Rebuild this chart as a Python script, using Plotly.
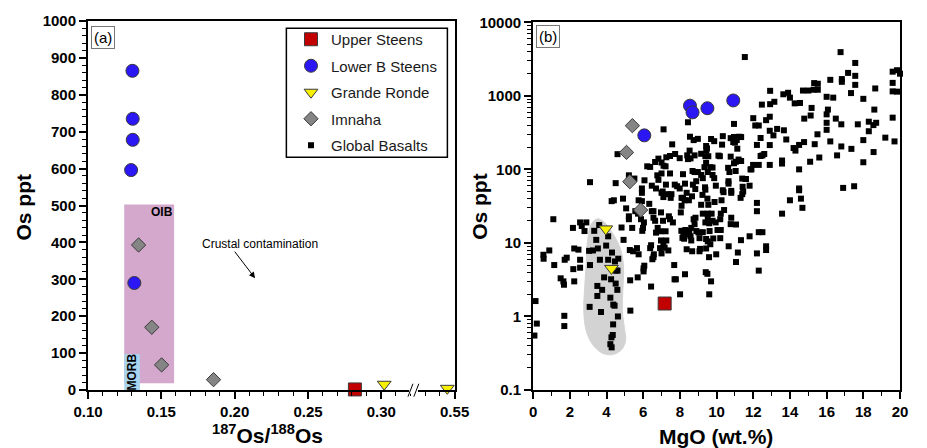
import plotly.graph_objects as go

# ---------------- sample data ----------------
# (a) 187Os/188Os vs Os (ppt)
upper_ratio = [0.282]
upper_os = [1.5]
lower_ratio = [0.1303, 0.1305, 0.1305, 0.1294, 0.1316]
lower_os = [865, 735, 678, 596, 290]
grande_ratio = [0.302, 0.545]
grande_os = [15.5, 4.5]
imnaha_ratio = [0.1345, 0.1435, 0.1502, 0.1856]
imnaha_os = [393, 170, 68, 28]

# (b) MgO (wt.%) for the same samples
upper_mgo = [7.17]
lower_mgo = [10.91, 8.55, 9.5, 8.69, 6.06]
grande_mgo = [3.96, 4.27]
imnaha_mgo = [5.41, 5.09, 5.27, 5.86]

# global basalt compilation: MgO (wt.%) and Os (ppt)
global_mgo = [
    11.54, 16.76, 17.56, 17.17, 17.56, 16.83, 16.83, 17.56, 16.2, 15.32, 15.52, 15.29, 15.52, 15.0, 14.71,
    12.92, 13.64, 13.9, 14.0, 14.26, 14.55, 16.0, 16.36, 17.33, 18.0, 18.65, 19.6, 19.6, 19.84, 20.0,
    19.6, 19.84, 13.15, 12.92, 12.47, 12.0, 12.11, 12.3, 12.7, 12.9, 12.9, 13.3, 13.67, 13.1, 12.9,
    12.4, 12.2, 13.8, 14.2, 14.3, 14.5, 14.77, 14.5, 13.57, 13.57, 12.9, 12.4, 12.5, 12.6, 12.3,
    11.99, 11.85, 14.78, 15.13, 15.18, 15.5, 15.35, 15.6, 15.1, 16.0, 16.0, 16.07, 16.0, 16.2, 16.5,
    16.57, 16.8, 16.8, 17.35, 17.7, 18.0, 18.3, 18.3, 18.55, 18.7, 18.56, 18.0, 18.6, 19.2, 19.6,
    19.7, 16.9, 17.5, 14.68, 14.6, 14.0, 13.57, 14.5, 14.5, 12.3, 12.5, 12.3, 12.2, 12.7, 12.7,
    11.8, 12.2, 12.2, 11.8, 11.6, 11.9,
    4.6, 4.5, 4.28, 4.4, 4.9, 3.1, 1.1, 2.17, 2.56, 2.65, 2.9, 2.8, 2.24, 2.47, 1.72,
    1.83, 2.56, 0.88, 0.56, 0.57, 1.15, 2.19, 2.56, 1.5, 1.65, 1.68, 2.24, 1.7, 1.7, 0.13,
    0.2, 0.07,
    3.6, 3.33, 4.09, 3.44, 3.98, 3.53, 3.05, 3.26, 4.3, 3.64, 4.09, 4.64, 4.46, 4.5, 4.6,
    3.1, 3.87, 3.5, 3.76, 4.25, 4.5, 4.59, 3.5, 4.21, 3.08, 3.7, 4.37, 4.44, 4.62, 4.36,
    4.34, 4.27, 4.21, 4.28,
    4.82, 4.93, 5.22, 5.22, 5.07, 5.22, 5.52, 5.4, 5.45, 5.27, 5.66, 5.75, 5.7, 5.29, 5.3,
    6.06, 6.02, 6.02, 5.99, 5.95, 6.04, 5.88, 5.93, 6.07, 5.93, 5.93, 5.72, 5.75, 5.57, 6.33,
    6.47, 6.22, 6.38, 6.65, 6.83, 7.0, 7.11, 7.26, 7.22, 7.46, 7.58, 7.11, 7.74, 7.99, 7.46,
    7.0, 6.77, 6.83, 7.24, 7.72, 7.85, 7.99, 8.17, 8.28, 7.54, 7.5, 7.1, 7.0, 7.06, 7.33,
    6.7, 6.47, 6.56, 6.97, 7.4, 7.46, 7.62, 7.08, 6.65, 6.56, 6.79, 6.94, 6.7, 7.22, 7.26,
    6.97, 7.1, 6.92, 7.17, 7.0, 7.37, 6.43, 6.38, 6.56, 6.58, 6.5, 6.43, 7.69, 7.71, 7.78,
    8.01, 8.28,
    8.05, 8.09, 8.09, 8.17, 8.26, 8.49, 8.37, 8.66, 8.84, 8.71, 8.69, 8.58, 8.53, 8.4, 8.44,
    8.8, 8.55, 8.75, 8.98, 8.44, 8.8, 8.98, 8.89, 9.25, 9.16, 9.34, 9.43, 9.48, 9.44, 9.43,
    9.16, 9.39, 9.55, 9.7, 9.87, 9.66, 9.78, 9.78, 9.87, 9.52, 9.96, 10.1, 10.18, 10.3, 10.34,
    10.63, 10.7, 10.65, 10.65, 10.77, 10.77, 10.95, 10.91, 11.1, 11.0, 10.95, 11.13, 11.2, 11.34, 11.06,
    10.95, 11.4, 11.42, 11.45, 11.31, 11.4, 11.04, 11.24, 11.34, 11.58, 10.27, 10.41, 10.8, 10.8, 10.38,
    10.34, 9.89, 9.5, 9.55, 9.52, 9.52, 9.73, 10.23, 10.2, 9.95, 9.78, 9.6, 9.39, 9.25, 9.16,
    9.23, 9.39, 9.37, 8.85, 8.75, 8.8, 8.62, 8.51, 8.3, 8.19, 8.08, 8.14, 8.23, 8.48, 8.58,
    8.62, 8.9, 9.01, 9.07, 9.25, 9.43, 9.52, 9.62, 9.82, 9.66, 9.43, 9.1, 9.07, 8.67, 8.37,
    9.59, 9.98, 10.2, 10.05, 10.23, 10.66, 10.77, 11.06, 10.8, 11.16, 11.06, 11.33, 9.41, 9.5, 9.7,
    9.6,
]
global_os = [
    3370, 3930, 2800, 2050, 1870, 1690, 1550, 1410, 1650, 1490, 1460, 1210, 1210, 1180, 1180,
    1170, 1050, 1100, 945, 790, 800, 970, 945, 1090, 910, 1260, 1500, 2130, 2230, 2000,
    1150, 1140, 830, 770, 760, 497, 395, 395, 467, 520, 335, 355, 340, 290, 214,
    267, 215, 255, 195, 180, 215, 235, 100, 132, 120, 115, 152, 155, 162, 115,
    115, 100, 490, 540, 685, 300, 220, 145, 127, 560, 430, 650, 345, 240, 490,
    155, 410, 205, 190, 410, 250, 330, 445, 400, 430, 172, 125, 650, 270, 505,
    240, 56, 59, 30, 40, 38, 25, 55, 52, 14, 14, 4.2, 7.2, 9, 8,
    12.3, 27, 35, 60, 74, 100,
    161, 65, 37, 38, 40, 67, 21, 16, 19, 17, 19, 14.5, 8.4, 8.1, 5.9,
    6.3, 5.9, 7.9, 6.9, 6.1, 5.0, 4.4, 4.6, 3.3, 3.0, 2.7, 3.0, 1.02, 0.74, 1.62,
    0.80, 0.55,
    17.5, 14.6, 12.3, 11, 9.2, 8.4, 7.8, 7.9, 7.4, 5.9, 5.9, 6.1, 5.6, 4.2, 4.2,
    5.0, 3.4, 2.6, 2.3, 3.2, 2.8, 2.3, 1.9, 1.8, 1.35, 1.15, 1.45, 1.4, 1.0, 0.78,
    0.56, 0.52, 0.42, 0.38,
    16.2, 11, 23, 21, 29.5, 83, 75, 16, 7.7, 8, 8.5, 7, 3.4, 3.1, 1.2,
    4.9, 4.5, 4.1, 16, 14.6, 19, 21, 48, 71, 55, 37, 25, 38, 27, 34,
    27, 110, 108, 126, 140, 124, 112, 146, 110, 152, 219, 350, 162, 142, 88,
    88, 83, 72, 62, 62, 59, 55, 86, 64, 46, 41, 42, 48, 50, 46,
    55, 60, 27, 26, 23, 21, 19, 20, 20, 22, 16, 14.4, 13.8, 14.4, 10.8,
    10.8, 9.5, 8.5, 8.6, 7.2, 7.9, 9.3, 8.5, 6.4, 7.0, 6.0, 2.55, 5.0, 3.2, 3.2,
    2.0, 3.75,
    26, 32, 41, 41, 38, 38, 48, 43, 54, 62, 95, 141, 180, 155, 138,
    155, 278, 250, 260, 437, 92, 92, 69, 76, 84, 107, 122, 193, 180, 208,
    163, 151, 151, 259, 242, 107, 106, 84, 76, 92, 60, 154, 151, 217, 283,
    105, 92, 69, 64, 149, 266, 276, 235, 250, 231, 415, 191, 136, 130, 127,
    121, 75, 58, 50, 41, 46, 95, 278, 275, 74, 38, 28, 51, 48, 49,
    52, 36, 40, 33, 25, 22, 25, 25, 21, 19, 20, 18.5, 19, 25, 33,
    45, 53, 57, 22, 21, 18, 16, 14.5, 15, 13.5, 14.6, 11.7, 11.4, 13, 12.3,
    10.8, 14.5, 13.9, 11.6, 14, 11.3, 10.5, 14.5, 11.5, 9.6, 8.4, 8.3, 7.7, 7.7, 8.2,
    6.4, 7.0, 11.6, 15, 15, 9.0, 18, 17.8, 22, 7.4, 5.5, 10.9, 4.0, 3.8, 3.0,
    2.0,
]

# outline of the low-MgO field in (b): MgO, Os
field_mgo = [3.51, 3.15, 2.96, 2.89, 2.81, 2.76, 2.89, 3.21, 3.75, 4.32, 4.82, 5.04, 4.98,
             4.86, 4.89, 4.93, 4.82, 4.59, 4.23, 3.87, 3.51]
field_os = [21.3, 17.7, 10.5, 5.1, 2.48, 1.2, 0.645, 0.427, 0.319, 0.303, 0.353, 0.472, 0.68,
            1.2, 2.24, 4.6, 7.3, 10.5, 14.7, 19.2, 21.3]

# reference fields in (a): (x0, x1, y0, y1)
oib_box = (0.1247, 0.1587, 18, 503)
morb_box = (0.1247, 0.1354, 0, 97)

# broken ratio axis: values above the break are shifted left by OFFSET
BREAK = 0.325
OFFSET = 0.20
x_tickvals = [0.10, 0.15, 0.20, 0.25, 0.30, 0.35]
x_ticktext = ["0.10", "0.15", "0.20", "0.25", "0.30", "0.55"]


def on_axis(vals):
    return [v - OFFSET if v > BREAK else v for v in vals]


FONT = "Liberation Sans, Arial, Helvetica, sans-serif"
EDGE = "#3a3a3a"

styles = {
    "Upper Steens": dict(symbol="square", size=13, color="#c30000", line=dict(color=EDGE, width=1)),
    "Lower B Steens": dict(symbol="circle", size=13, color="#2b16f4", line=dict(color=EDGE, width=1)),
    "Grande Ronde": dict(symbol="triangle-down", size=12, color="#f7f000", line=dict(color=EDGE, width=1)),
    "Imnaha": dict(symbol="diamond", size=11, color="#858585", line=dict(color=EDGE, width=1)),
}
groups = [
    ("Upper Steens", upper_ratio, upper_os, upper_mgo),
    ("Lower B Steens", lower_ratio, lower_os, lower_mgo),
    ("Grande Ronde", grande_ratio, grande_os, grande_mgo),
    ("Imnaha", imnaha_ratio, imnaha_os, imnaha_mgo),
]

fig = go.Figure()

# low-MgO field (drawn first so it sits beneath the points)
fig.add_trace(go.Scatter(
    x=field_mgo, y=field_os, mode="lines", fill="toself", fillcolor="#d3d3d3",
    line=dict(color="#d3d3d3", width=1, shape="spline", smoothing=1.0),
    xaxis="x2", yaxis="y2", showlegend=False, hoverinfo="skip",
))

fig.add_trace(go.Scatter(
    x=global_mgo, y=global_os, mode="markers", name="Global Basalts",
    marker=dict(symbol="square", size=6, color="black", line=dict(width=0)),
    xaxis="x2", yaxis="y2", legendrank=5, legendgroup="g5", cliponaxis=False,
))

for rank, (name, ratio, os_ppt, mgo) in enumerate(groups, start=1):
    fig.add_trace(go.Scatter(
        x=on_axis(ratio), y=os_ppt, mode="markers", name=name, marker=styles[name],
        xaxis="x", yaxis="y", legendrank=rank, legendgroup=f"g{rank}", cliponaxis=False,
    ))
    fig.add_trace(go.Scatter(
        x=mgo, y=os_ppt, mode="markers", name=name, marker=styles[name],
        xaxis="x2", yaxis="y2", showlegend=False, legendgroup=f"g{rank}", cliponaxis=False,
    ))

tickfont = dict(family=FONT, size=15, color="black", weight="bold")
common = dict(
    showline=True, linewidth=2, linecolor="black", mirror=True, showgrid=False, zeroline=False,
    ticks="outside", ticklen=7, tickwidth=1.5, tickcolor="black", tickfont=tickfont,
)

fig.update_layout(
    width=927, height=448,
    margin=dict(l=88, r=15, t=18, b=58),
    paper_bgcolor="white", plot_bgcolor="white",
    font=dict(family=FONT, color="black"),
    xaxis=dict(domain=[0, 0.4515], range=[0.10, 0.35], tickvals=x_tickvals, ticktext=x_ticktext,
               minor=dict(ticks="outside", ticklen=4, tickwidth=1, tickcolor="black", dtick=0.01, tick0=0.10),
               anchor="y", **common),
    yaxis=dict(domain=[0, 1], range=[0, 1000], dtick=100, tick0=0,
               minor=dict(ticks="outside", ticklen=4, tickwidth=1, tickcolor="black", dtick=20, tick0=0),
               anchor="x", **common),
    xaxis2=dict(domain=[0.5482, 1], range=[0, 20], dtick=2, tick0=0,
                minor=dict(ticks="outside", ticklen=4, tickwidth=1, tickcolor="black", dtick=1, tick0=0),
                anchor="y2", **common),
    yaxis2=dict(domain=[0, 0.9965], type="log", range=[-1, 4],
                tickvals=[0.1, 1, 10, 100, 1000, 10000],
                ticktext=["0.1", "1", "10", "100", "1000", "10000"],
                minor=dict(ticks="outside", ticklen=4, tickwidth=1, tickcolor="black", dtick="D1"),
                anchor="x2", **common),
    legend=dict(
        x=0.250, y=0.9946, xanchor="left", yanchor="top",
        bgcolor="rgba(0,0,0,0)", borderwidth=0,
        font=dict(family=FONT, size=15, color="#1a1a1a"),
        traceorder="grouped", tracegroupgap=4, itemsizing="trace",
    ),
    showlegend=True,
)

shapes = [
    dict(type="rect", xref="x", yref="y", x0=oib_box[0], x1=oib_box[1], y0=oib_box[2], y1=oib_box[3],
         fillcolor="#d3a8cc", line=dict(width=0), layer="below"),
    dict(type="rect", xref="x", yref="y", x0=morb_box[0], x1=morb_box[1], y0=morb_box[2], y1=morb_box[3],
         fillcolor="#a8d4ee", line=dict(width=0), layer="below"),
    # legend frame
    dict(type="rect", xref="paper", yref="paper", x0=0.2443, x1=0.4426, y0=0.6309, y1=0.9804,
         fillcolor="white", line=dict(color="black", width=1.5), layer="above"),
    # axis break on the ratio axis
    dict(type="rect", xref="x", yref="y domain", x0=0.3190, x1=0.3250, y0=-0.01, y1=0.01,
         fillcolor="white", line=dict(width=0), layer="above"),
    dict(type="line", xref="x", yref="y domain", x0=0.3182, x1=0.3216, y0=-0.018, y1=0.017,
         line=dict(color="black", width=1)),
    dict(type="line", xref="x", yref="y domain", x0=0.3222, x1=0.3256, y0=-0.018, y1=0.017,
         line=dict(color="black", width=1)),
]
fig.update_layout(shapes=shapes)

title_font = dict(family=FONT, size=21, color="black", weight="bold")
label_font = dict(family=FONT, size=15, color="black")


def paper_text(text, x, y, font, **kw):
    return dict(text=text, xref="paper", yref="paper", x=x, y=y, xanchor="center",
                yanchor="middle", showarrow=False, font=font, **kw)


annotations = [
    paper_text("(a)", 0.0182, 0.9556, label_font, bordercolor="#777777", borderwidth=1,
               borderpad=2, bgcolor="white"),
    paper_text("(b)", 0.566, 0.957, label_font, bordercolor="#777777", borderwidth=1,
               borderpad=2, bgcolor="white"),
    dict(text="OIB", xref="x", yref="y", x=0.1505, y=482, showarrow=False,
         font=dict(family=FONT, size=12, color="black", weight="bold")),
    dict(text="MORB", xref="x", yref="y", x=0.1300, y=50, showarrow=False, textangle=-90,
         font=dict(family=FONT, size=12, color="black", weight="bold")),
    dict(text="Crustal contamination", xref="x", yref="y", x=0.2173, y=395, showarrow=False,
         font=dict(family=FONT, size=12, color="black")),
    dict(text="", xref="x", yref="y", axref="x", ayref="y", x=0.2139, y=303, ax=0.1993, ay=379,
         showarrow=True, arrowhead=2, arrowsize=1.2, arrowwidth=1, arrowcolor="black"),
    paper_text("Os ppt", -0.0789, 0.497, title_font, textangle=-90),
    paper_text("Os ppt", 0.4818, 0.497, title_font, textangle=-90),
    paper_text("<sup>187</sup>Os/<sup>188</sup>Os", 0.2216, -0.12, title_font),
    paper_text("MgO (wt.%)", 0.773, -0.126, title_font),
]
fig.update_layout(annotations=annotations)

fig.write_html("out.html")
